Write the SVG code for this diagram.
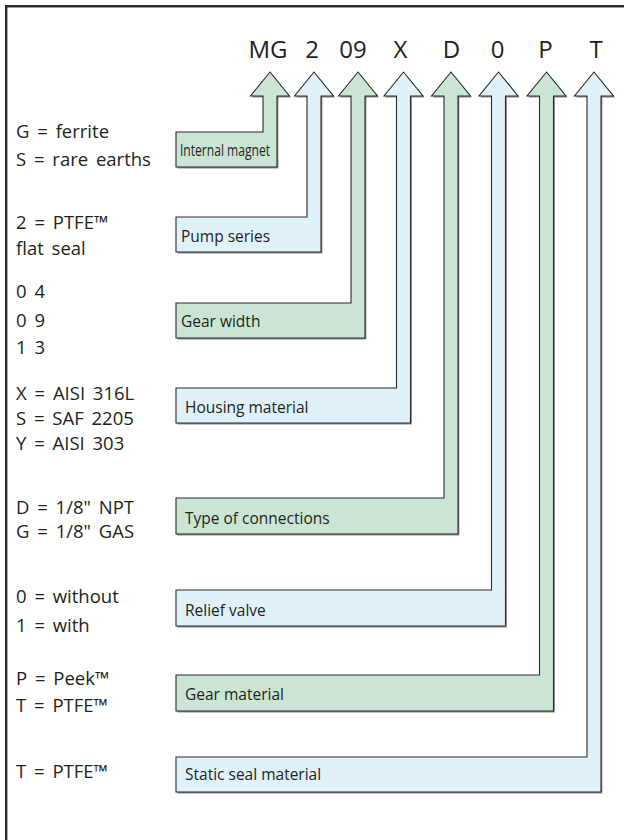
<svg xmlns="http://www.w3.org/2000/svg" width="624" height="840" viewBox="0 0 624 840">
<style>
  .code { font-family: "Open Sans", "Noto Sans", "DejaVu Sans", sans-serif; font-size: 24px; fill: #231f20; text-anchor: middle; }
  .desc { font-family: "Open Sans", "Noto Sans", "DejaVu Sans", sans-serif; font-size: 18.5px; fill: #231f20; word-spacing: 3px; }
  .lbl { font-family: "Open Sans", "Noto Sans", "DejaVu Sans", sans-serif; font-size: 15.5px; fill: #231f20; }
  .g { fill: #cae5d3; stroke: #2a2a2a; stroke-width: 1.1; stroke-linejoin: miter; }
  .b { fill: #e1f1f9; stroke: #2a2a2a; stroke-width: 1.1; stroke-linejoin: miter; }
  .sh { fill: #8c8c8c; }
  .frame { fill: none; stroke: #2b2b2b; stroke-width: 2.4; }
</style>
<rect width="624" height="840" fill="#ffffff"/>
<path class="frame" d="M6.2,840 V6.2 H624"/>

<g id="code">
  <text class="code" x="268" y="58">MG</text>
  <text class="code" x="312" y="58">2</text>
  <text class="code" x="353" y="58">09</text>
  <text class="code" x="400.5" y="58">X</text>
  <text class="code" x="451.5" y="58">D</text>
  <text class="code" x="497.5" y="58">0</text>
  <text class="code" x="545.5" y="58">P</text>
  <text class="code" x="596" y="58">T</text>
</g>

<g id="connectors">
  <g id="internal-magnet">
    <polygon class="sh" transform="translate(1.4,1.4)" points="176,132 263,132 263,96 250.5,96 270,72 289.5,96 277,96 277,167 176,167"/>
    <polygon class="g" points="176,132 263,132 263,96 250.5,96 270,72 289.5,96 277,96 277,167 176,167"/>
    <text class="lbl" x="180" y="156" font-size="17" textLength="90" lengthAdjust="spacingAndGlyphs">Internal magnet</text>
  </g>
  <g id="pump-series">
    <polygon class="sh" transform="translate(1.4,1.4)" points="176,217 307,217 307,96 294.5,96 314,72 333.5,96 321,96 321,252 176,252"/>
    <polygon class="b" points="176,217 307,217 307,96 294.5,96 314,72 333.5,96 321,96 321,252 176,252"/>
    <text class="lbl" x="181" y="241.5">Pump series</text>
  </g>
  <g id="gear-width">
    <polygon class="sh" transform="translate(1.4,1.4)" points="176,303 351,303 351,96 338.5,96 358,72 377.5,96 365,96 365,338 176,338"/>
    <polygon class="g" points="176,303 351,303 351,96 338.5,96 358,72 377.5,96 365,96 365,338 176,338"/>
    <text class="lbl" x="181" y="327">Gear width</text>
  </g>
  <g id="housing-material">
    <polygon class="sh" transform="translate(1.4,1.4)" points="176,388 396.5,388 396.5,96 384,96 403.5,72 423,96 410.5,96 410.5,423 176,423"/>
    <polygon class="b" points="176,388 396.5,388 396.5,96 384,96 403.5,72 423,96 410.5,96 410.5,423 176,423"/>
    <text class="lbl" x="185" y="412.5">Housing material</text>
  </g>
  <g id="type-of-connections">
    <polygon class="sh" transform="translate(1.4,1.4)" points="176,498 444,498 444,96 431.5,96 451,72 470.5,96 458,96 458,534 176,534"/>
    <polygon class="g" points="176,498 444,498 444,96 431.5,96 451,72 470.5,96 458,96 458,534 176,534"/>
    <text class="lbl" x="185" y="523.5">Type of connections</text>
  </g>
  <g id="relief-valve">
    <polygon class="sh" transform="translate(1.4,1.4)" points="176,590 491.5,590 491.5,96 479,96 498.5,72 518,96 505.5,96 505.5,626 176,626"/>
    <polygon class="b" points="176,590 491.5,590 491.5,96 479,96 498.5,72 518,96 505.5,96 505.5,626 176,626"/>
    <text class="lbl" x="185" y="615.5">Relief valve</text>
  </g>
  <g id="gear-material">
    <polygon class="sh" transform="translate(1.4,1.4)" points="176,675 539.5,675 539.5,96 527,96 546.5,72 566,96 553.5,96 553.5,711 176,711"/>
    <polygon class="g" points="176,675 539.5,675 539.5,96 527,96 546.5,72 566,96 553.5,96 553.5,711 176,711"/>
    <text class="lbl" x="185" y="700">Gear material</text>
  </g>
  <g id="static-seal-material">
    <polygon class="sh" transform="translate(1.4,1.4)" points="176,757 587,757 587,96 574.5,96 594,72 613.5,96 601,96 601,792 176,792"/>
    <polygon class="b" points="176,757 587,757 587,96 574.5,96 594,72 613.5,96 601,96 601,792 176,792"/>
    <text class="lbl" x="185" y="780">Static seal material</text>
  </g>
</g>

<g id="descriptions">
  <g id="desc-magnet">
    <text class="desc" x="16" y="138">G = ferrite</text>
    <text class="desc" x="16" y="166">S = rare earths</text>
  </g>
  <g id="desc-series">
    <text class="desc" x="16" y="229">2 = PTFE™</text>
    <text class="desc" x="16" y="255">flat seal</text>
  </g>
  <g id="desc-width">
    <text class="desc" x="16" y="298">0 4</text>
    <text class="desc" x="16" y="326.5">0 9</text>
    <text class="desc" x="16" y="354">1 3</text>
  </g>
  <g id="desc-housing">
    <text class="desc" x="16" y="400">X = AISI 316L</text>
    <text class="desc" x="16" y="425">S = SAF 2205</text>
    <text class="desc" x="16" y="450">Y = AISI 303</text>
  </g>
  <g id="desc-connections">
    <text class="desc" x="16" y="514">D = 1/8" NPT</text>
    <text class="desc" x="16" y="538">G = 1/8" GAS</text>
  </g>
  <g id="desc-relief">
    <text class="desc" x="16" y="603">0 = without</text>
    <text class="desc" x="16" y="632">1 = with</text>
  </g>
  <g id="desc-gear">
    <text class="desc" x="16" y="685">P = Peek™</text>
    <text class="desc" x="16" y="712">T = PTFE™</text>
  </g>
  <g id="desc-seal">
    <text class="desc" x="16" y="778">T = PTFE™</text>
  </g>
</g>
</svg>
